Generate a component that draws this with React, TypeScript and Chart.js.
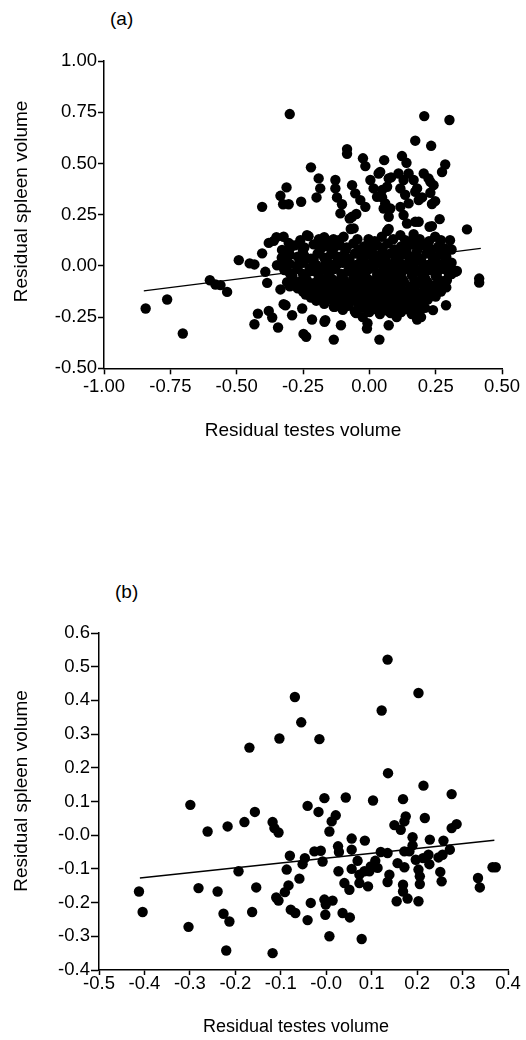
import { useEffect, useRef } from "react";
import { Chart, registerables } from "chart.js";

Chart.register(...registerables);

const FONT = '"Liberation Sans", Arial, Helvetica, sans-serif';

// ---------- Panel (a) ----------
const xTicksA = [-1, -0.75, -0.5, -0.25, 0, 0.25, 0.5];
const xTickLabelsA = ["-1.00", "-0.75", "-0.50", "-0.25", "0.00", "0.25", "0.50"];
const yTicksA = [-0.5, -0.25, 0, 0.25, 0.5, 0.75, 1];
const yTickLabelsA = ["-0.50", "-0.25", "0.00", "0.25", "0.50", "0.75", "1.00"];

const leftPointsA: [number, number][] = [
  [-0.843, -0.208], [-0.762, -0.164], [-0.703, -0.33], [-0.601, -0.07], [-0.58, -0.091],
  [-0.561, -0.094], [-0.536, -0.127], [-0.492, 0.028], [-0.451, 0.012], [-0.433, 0.007],
  [-0.404, 0.061], [-0.392, -0.029], [-0.385, -0.083], [-0.348, 0.003], [-0.335, -0.115],
  [-0.329, 0.078], [-0.3, -0.1],
];

const upperPointsA: [number, number][] = [
  [-0.3, 0.741], [0.207, 0.731], [0.302, 0.712], [0.173, 0.611], [0.233, 0.586],
  [-0.084, 0.57], [-0.084, 0.547], [-0.22, 0.481], [-0.024, 0.525], [-0.015, 0.487],
  [0.056, 0.516], [0.123, 0.536], [0.14, 0.503], [0.286, 0.495], [0.274, 0.458],
  [-0.191, 0.427], [-0.185, 0.378], [-0.199, 0.334], [-0.128, 0.419], [-0.128, 0.378],
  [-0.122, 0.334], [-0.103, 0.301], [-0.065, 0.394], [-0.053, 0.354], [-0.034, 0.321],
  [-0.015, 0.288], [0.004, 0.419], [0.016, 0.378], [0.035, 0.451], [0.048, 0.334],
  [0.067, 0.386], [0.073, 0.427], [0.054, 0.28], [0.073, 0.24], [0.11, 0.451],
  [0.129, 0.419], [0.148, 0.451], [0.117, 0.378], [0.135, 0.347], [0.148, 0.305],
  [0.167, 0.419], [0.18, 0.378], [0.199, 0.334], [0.205, 0.451], [0.23, 0.41],
  [0.23, 0.357], [0.236, 0.302], [0.173, 0.215], [0.227, 0.191], [0.265, 0.228],
  [0.368, 0.178], [-0.065, 0.24], [-0.109, 0.256], [-0.074, 0.231], [-0.049, 0.253],
  [-0.059, 0.183], [-0.312, 0.383], [-0.335, 0.342], [-0.325, 0.301], [-0.304, 0.301],
  [-0.257, 0.313], [-0.404, 0.288], [0.06, 0.305], [0.079, 0.28], [0.117, 0.288],
  [0.129, 0.248], [0.142, 0.207], [0.186, 0.215], [0.236, 0.194], [0.041, 0.459],
  [0.082, 0.432], [0.029, 0.337], [0.048, 0.37], [0.186, 0.321], [0.248, 0.316],
  [0.173, 0.362], [0.223, 0.427], [0.242, 0.394],
];

const bandPointsA: [number, number][] = [
  [-0.379, 0.112], [-0.36, 0.122], [-0.323, 0.142], [-0.304, 0.112], [-0.29, 0.1],
  [-0.229, 0.145], [-0.185, 0.117], [-0.135, 0.13], [-0.097, 0.142], [-0.003, 0.13],
  [0.047, 0.142], [0.073, 0.18], [0.117, 0.15], [0.167, 0.155], [0.248, 0.142],
  [0.304, 0.125], [-0.07, 0.18], [0.067, 0.17], [0.167, 0.14], [-0.17, 0.14],
  [-0.235, 0.15], [-0.35, 0.14], [0.31, 0.08],
  [-0.26, 0.125], [-0.19, 0.13], [-0.15, 0.12], [-0.115, 0.125], [-0.045, 0.13],
  [0.02, 0.12], [0.09, 0.13], [0.135, 0.125], [0.19, 0.13], [0.225, 0.12], [0.27, 0.125],
];

const corePointsA: [number, number][] = [
  [-0.28, 0.1], [-0.21, 0.105], [-0.16, 0.095], [-0.11, 0.1], [-0.06, 0.11], [-0.02, 0.095],
  [0.03, 0.1], [0.07, 0.11], [0.12, 0.095], [0.16, 0.105], [0.21, 0.1], [0.26, 0.095],
  [-0.3, 0.085], [-0.245, 0.09], [-0.185, 0.08], [-0.135, 0.085], [-0.085, 0.09], [-0.04, 0.08],
  [0.005, 0.085], [0.05, 0.09], [0.095, 0.08], [0.14, 0.085], [0.185, 0.09], [0.235, 0.08], [0.285, 0.085],
  [-0.31, 0.07], [-0.25, 0.075], [-0.19, 0.065], [-0.14, 0.07], [-0.09, 0.075], [-0.04, 0.065],
  [0.01, 0.07], [0.05, 0.075], [0.09, 0.065], [0.14, 0.07], [0.18, 0.075], [0.23, 0.065], [0.28, 0.07],
  [-0.3, 0.055], [-0.245, 0.05], [-0.195, 0.06], [-0.145, 0.055], [-0.1, 0.05], [-0.055, 0.06],
  [-0.01, 0.055], [0.035, 0.05], [0.08, 0.06], [0.125, 0.055], [0.17, 0.05], [0.215, 0.06], [0.265, 0.055],
  [-0.33, 0.04], [-0.27, 0.045], [-0.22, 0.035], [-0.17, 0.04], [-0.12, 0.045], [-0.08, 0.035],
  [-0.03, 0.04], [0.02, 0.045], [0.06, 0.035], [0.1, 0.04], [0.15, 0.045], [0.19, 0.035],
  [0.24, 0.04], [0.29, 0.045],
  [-0.315, 0.025], [-0.26, 0.02], [-0.21, 0.03], [-0.165, 0.025], [-0.12, 0.02], [-0.075, 0.03],
  [-0.03, 0.025], [0.015, 0.02], [0.06, 0.03], [0.105, 0.025], [0.15, 0.02], [0.195, 0.03],
  [0.24, 0.025], [0.285, 0.02],
  [-0.3, 0.01], [-0.25, 0.015], [-0.2, 0.005], [-0.15, 0.01], [-0.1, 0.015], [-0.05, 0.005],
  [-0.01, 0.01], [0.04, 0.015], [0.08, 0.005], [0.12, 0.01], [0.17, 0.015], [0.22, 0.005],
  [0.26, 0.01], [0.31, 0.015],
  [-0.325, -0.005], [-0.275, 0.0], [-0.225, -0.01], [-0.175, -0.005], [-0.125, 0.0], [-0.075, -0.01],
  [-0.03, -0.005], [0.02, 0.0], [0.065, -0.01], [0.11, -0.005], [0.155, 0.0], [0.2, -0.01],
  [0.245, -0.005], [0.29, 0.0],
  [-0.32, -0.02], [-0.27, -0.015], [-0.22, -0.025], [-0.18, -0.02], [-0.13, -0.015], [-0.08, -0.025],
  [-0.04, -0.02], [0.0, -0.015], [0.05, -0.025], [0.09, -0.02], [0.14, -0.015], [0.18, -0.025],
  [0.23, -0.02], [0.28, -0.015], [0.33, -0.025],
  [-0.3, -0.035], [-0.25, -0.04], [-0.2, -0.03], [-0.155, -0.035], [-0.105, -0.04], [-0.06, -0.03],
  [-0.015, -0.035], [0.03, -0.04], [0.075, -0.03], [0.12, -0.035], [0.165, -0.04], [0.21, -0.03],
  [0.255, -0.035], [0.31, -0.04],
  [-0.29, -0.05], [-0.24, -0.045], [-0.19, -0.055], [-0.15, -0.05], [-0.1, -0.045], [-0.06, -0.055],
  [-0.02, -0.05], [0.03, -0.045], [0.07, -0.055], [0.11, -0.05], [0.16, -0.045], [0.2, -0.055],
  [0.25, -0.05], [0.3, -0.045],
  [-0.29, -0.065], [-0.235, -0.07], [-0.185, -0.06], [-0.14, -0.065], [-0.095, -0.07], [-0.05, -0.06],
  [-0.005, -0.065], [0.04, -0.07], [0.085, -0.06], [0.125, -0.065], [0.17, -0.07], [0.21, -0.06],
  [0.26, -0.065], [0.29, -0.07],
  [-0.31, -0.08], [-0.26, -0.075], [-0.21, -0.085], [-0.16, -0.08], [-0.12, -0.075], [-0.07, -0.085],
  [-0.03, -0.08], [0.01, -0.075], [0.06, -0.085], [0.1, -0.08], [0.13, -0.075], [0.18, -0.085],
  [0.22, -0.08], [0.27, -0.075],
  [-0.29, -0.095], [-0.24, -0.1], [-0.19, -0.09], [-0.145, -0.095], [-0.1, -0.1], [-0.055, -0.09],
  [-0.015, -0.095], [0.025, -0.1], [0.07, -0.09], [0.115, -0.095], [0.155, -0.1], [0.2, -0.09],
  [0.245, -0.095], [0.28, -0.1],
  [-0.27, -0.11], [-0.22, -0.105], [-0.18, -0.115], [-0.13, -0.11], [-0.09, -0.105], [-0.04, -0.115],
  [0.0, -0.11], [0.04, -0.105], [0.08, -0.115], [0.12, -0.11], [0.16, -0.105], [0.21, -0.115],
  [0.25, -0.11], [0.29, -0.105],
  [-0.25, -0.125], [-0.205, -0.13], [-0.16, -0.12], [-0.115, -0.125], [-0.07, -0.13], [-0.025, -0.12],
  [0.02, -0.125], [0.06, -0.13], [0.1, -0.12], [0.14, -0.125], [0.18, -0.13], [0.225, -0.12], [0.27, -0.125],
  [-0.24, -0.14], [-0.19, -0.135], [-0.14, -0.145], [-0.1, -0.14], [-0.05, -0.135], [-0.01, -0.145],
  [0.03, -0.14], [0.07, -0.135], [0.11, -0.145], [0.15, -0.14], [0.19, -0.135], [0.24, -0.145],
  [-0.22, -0.155], [-0.17, -0.16], [-0.125, -0.15], [-0.08, -0.155], [-0.035, -0.16], [0.01, -0.15],
  [0.05, -0.155], [0.09, -0.16], [0.13, -0.15], [0.17, -0.155], [0.21, -0.16], [0.25, -0.15],
  [-0.2, -0.17], [-0.15, -0.165], [-0.11, -0.175], [-0.06, -0.17], [-0.02, -0.165], [0.02, -0.175],
  [0.06, -0.17], [0.1, -0.165], [0.14, -0.175], [0.18, -0.17], [0.22, -0.165],
  [-0.17, -0.185], [-0.125, -0.19], [-0.08, -0.18], [-0.04, -0.185], [0.0, -0.19], [0.04, -0.18],
  [0.08, -0.185], [0.115, -0.19], [0.155, -0.18], [0.195, -0.185],
  [-0.13, -0.2], [-0.08, -0.195], [-0.03, -0.205], [0.01, -0.2], [0.05, -0.195], [0.09, -0.205],
  [0.13, -0.2], [0.17, -0.195], [0.21, -0.205],
  [-0.1, -0.215], [-0.055, -0.22], [-0.01, -0.21], [0.03, -0.215], [0.07, -0.22], [0.11, -0.21],
  [0.15, -0.215], [0.19, -0.22],
  [-0.05, -0.23], [0.0, -0.225], [0.04, -0.235], [0.08, -0.23], [0.12, -0.225], [0.16, -0.235],
];

const lowerPointsA: [number, number][] = [
  [-0.42, -0.233], [-0.379, -0.22], [-0.366, -0.252], [-0.433, -0.285], [-0.344, -0.301],
  [-0.291, -0.241], [-0.316, -0.192], [-0.253, -0.208], [-0.248, -0.332], [-0.238, -0.346],
  [-0.216, -0.262], [-0.169, -0.273], [-0.134, -0.36], [-0.107, -0.29], [-0.009, -0.306],
  [-0.007, -0.28], [0.038, -0.36], [0.073, -0.29], [0.103, -0.25], [0.18, -0.262],
  [0.195, -0.25], [0.24, -0.216], [0.289, -0.192], [0.414, -0.062], [0.414, -0.082],
  [0.324, -0.029], [-0.323, -0.187], [-0.166, -0.265], [0.117, -0.216], [0.154, -0.19],
  [-0.235, -0.135], [-0.197, -0.151], [-0.134, -0.2], [-0.053, -0.225], [-0.025, -0.25],
  [0.292, -0.07], [0.305, 0.012], [0.316, -0.021],
];

const fitXA = [-0.85, 0.42];
const fitYA = [-0.122, 0.085];

// ---------- Panel (b) ----------
const xTicksB = [-0.5, -0.4, -0.3, -0.2, -0.1, 0, 0.1, 0.2, 0.3, 0.4];
const xTickLabelsB = ["-0.5", "-0.4", "-0.3", "-0.2", "-0.1", "-0.0", "0.1", "0.2", "0.3", "0.4"];
const yTicksB = [-0.4, -0.3, -0.2, -0.1, 0, 0.1, 0.2, 0.3, 0.4, 0.5, 0.6];
const yTickLabelsB = ["-0.4", "-0.3", "-0.2", "-0.1", "-0.0", "0.1", "0.2", "0.3", "0.4", "0.5", "0.6"];

const upperPointsB: [number, number][] = [
  [0.135, 0.521], [0.203, 0.422], [-0.069, 0.41], [0.122, 0.37], [-0.055, 0.335],
  [-0.103, 0.287], [-0.015, 0.285], [-0.169, 0.26], [0.136, 0.184], [0.214, 0.147],
  [0.276, 0.122], [-0.299, 0.09], [-0.004, 0.11], [0.043, 0.112], [0.103, 0.103],
  [0.169, 0.107], [-0.041, 0.087], [-0.017, 0.069], [0.021, 0.059], [0.012, 0.041],
  [0.007, 0.011], [0.15, 0.03], [0.175, 0.056], [0.172, 0.041], [0.217, 0.051],
  [0.287, 0.033], [0.276, 0.021], [-0.157, 0.069], [-0.18, 0.039], [-0.217, 0.026],
  [-0.261, 0.011], [-0.118, 0.039], [-0.114, 0.021], [-0.105, 0.008], [0.164, 0.016],
];

const leftPointsB: [number, number][] = [
  [-0.08, -0.061], [-0.047, -0.068], [-0.052, -0.086], [-0.087, -0.102], [-0.059, -0.129],
  [-0.083, -0.149], [-0.091, -0.169], [-0.11, -0.185], [-0.105, -0.194], [-0.078, -0.221],
  [-0.068, -0.231], [-0.041, -0.252], [-0.034, -0.201], [-0.193, -0.107], [-0.412, -0.167],
  [-0.404, -0.228], [-0.281, -0.157], [-0.239, -0.167], [-0.154, -0.155], [-0.226, -0.233],
  [-0.213, -0.256], [-0.163, -0.228], [-0.303, -0.272], [-0.22, -0.342], [-0.118, -0.35],
];

const rightPointsB: [number, number][] = [
  [-0.026, -0.048], [-0.012, -0.046], [-0.008, -0.078], [0.026, -0.033], [0.028, -0.05],
  [0.056, -0.01], [0.056, -0.043], [0.085, -0.016], [0.069, -0.076], [0.027, -0.107],
  [0.056, -0.1], [0.073, -0.117], [0.084, -0.107], [0.098, -0.093], [0.108, -0.076],
  [0.113, -0.097], [0.095, -0.107], [0.04, -0.142], [0.051, -0.162], [0.073, -0.142],
  [0.092, -0.152], [0.12, -0.05], [0.135, -0.053], [0.139, -0.117], [0.135, -0.139],
  [0.157, -0.083], [0.172, -0.095], [0.169, -0.147], [0.169, -0.167], [0.155, -0.196],
  [0.179, -0.188], [0.203, -0.196], [0.172, -0.048], [0.183, -0.048], [0.19, -0.03],
  [0.19, -0.006], [0.197, -0.073], [0.203, -0.102], [0.206, -0.122], [0.206, -0.145],
  [0.213, -0.068], [0.225, -0.058], [0.227, -0.086], [0.228, -0.013], [0.247, -0.066],
  [0.256, -0.058], [0.272, -0.043], [0.258, -0.016], [0.251, -0.109], [0.254, -0.137],
  [0.334, -0.127], [0.338, -0.155], [0.366, -0.095], [0.373, -0.095], [-0.004, -0.191],
  [-0.001, -0.206], [0.014, -0.194], [-0.002, -0.236], [0.036, -0.231], [0.052, -0.244],
  [0.007, -0.3], [0.078, -0.308],
];

const fitXB = [-0.41, 0.37];
const fitYB = [-0.127, -0.015];

// ---------- helpers ----------
type Pt = [number, number];
const toXY = (pts: Pt[]) => pts.map(([x, y]) => ({ x, y }));
const fitLine = (xs: number[], ys: number[]) => xs.map((x, i) => ({ x, y: ys[i] }));

interface PanelSpec {
  points: Pt[];
  fitX: number[];
  fitY: number[];
  xTicks: number[];
  xLabels: string[];
  yTicks: number[];
  yLabels: string[];
  padTop: number;
  padRight: number;
  yAxisWidth: number;
  xAxisHeight: number;
  tickFont: number;
  xTitle: string;
  yTitle: string;
  xTitleFont: number;
  yTitleFont: number;
  xTitlePadBottom: number;
  yTitlePadTop: number;
  xTickLen: number;
  xTickPad: number;
  yTickLen: number;
  yTickPad: number;
}

function buildConfig(p: PanelSpec): any {
  const axisBorder = { display: true, color: "#000", width: 1.5 };
  return {
    type: "scatter",
    data: {
      datasets: [
        {
          data: toXY(p.points),
          backgroundColor: "#000",
          borderWidth: 0,
          pointRadius: 5.2,
          pointHoverRadius: 5.2,
        },
        {
          data: fitLine(p.fitX, p.fitY),
          showLine: true,
          borderColor: "#000",
          borderWidth: 1.3,
          pointRadius: 0,
          pointHoverRadius: 0,
          fill: false,
        },
      ],
    },
    options: {
      animation: false,
      responsive: false,
      maintainAspectRatio: false,
      events: [],
      layout: { padding: { top: p.padTop, right: p.padRight, left: 0, bottom: 0 } },
      plugins: { legend: { display: false }, tooltip: { enabled: false }, title: { display: false } },
      scales: {
        x: {
          type: "linear",
          min: p.xTicks[0],
          max: p.xTicks[p.xTicks.length - 1],
          afterBuildTicks: (s: any) => {
            s.ticks = p.xTicks.map((v) => ({ value: v }));
          },
          afterFit: (s: any) => {
            s.height = p.xAxisHeight;
          },
          ticks: {
            autoSkip: false,
            maxRotation: 0,
            minRotation: 0,
            color: "#000",
            padding: p.xTickPad,
            font: { family: FONT, size: p.tickFont, lineHeight: 1 },
            callback: (_v: any, i: number) => p.xLabels[i],
          },
          grid: {
            drawOnChartArea: false,
            drawTicks: true,
            tickLength: p.xTickLen,
            tickColor: "#000",
            tickWidth: 1.5,
          },
          border: axisBorder,
          title: {
            display: true,
            text: p.xTitle,
            color: "#000",
            font: { family: FONT, size: p.xTitleFont },
            padding: { top: 0, bottom: p.xTitlePadBottom },
          },
        },
        y: {
          type: "linear",
          min: p.yTicks[0],
          max: p.yTicks[p.yTicks.length - 1],
          afterBuildTicks: (s: any) => {
            s.ticks = p.yTicks.map((v) => ({ value: v }));
          },
          afterFit: (s: any) => {
            s.width = p.yAxisWidth;
          },
          ticks: {
            autoSkip: false,
            color: "#000",
            padding: p.yTickPad,
            font: { family: FONT, size: p.tickFont, lineHeight: 1 },
            callback: (_v: any, i: number) => p.yLabels[i],
          },
          grid: {
            drawOnChartArea: false,
            drawTicks: true,
            tickLength: p.yTickLen,
            tickColor: "#000",
            tickWidth: 1.5,
          },
          border: axisBorder,
          title: {
            display: true,
            text: p.yTitle,
            color: "#000",
            font: { family: FONT, size: p.yTitleFont },
            padding: { top: p.yTitlePadTop, bottom: 0 },
          },
        },
      },
    },
  };
}

export default function App() {
  const refA = useRef<HTMLCanvasElement>(null);
  const refB = useRef<HTMLCanvasElement>(null);

  useEffect(() => {
    const chartA = new Chart(
      refA.current as HTMLCanvasElement,
      buildConfig({
        points: [...leftPointsA, ...upperPointsA, ...bandPointsA, ...corePointsA, ...lowerPointsA],
        fitX: fitXA,
        fitY: fitYA,
        xTicks: xTicksA,
        xLabels: xTickLabelsA,
        yTicks: yTicksA,
        yLabels: yTickLabelsA,
        padTop: 61,
        padRight: 24,
        yAxisWidth: 104,
        xAxisHeight: 73.7,
        tickFont: 18.5,
        xTitle: "Residual testes volume",
        yTitle: "     Residual spleen volume",
        xTitleFont: 19,
        yTitleFont: 19,
        xTitlePadBottom: 0,
        yTitlePadTop: 10,
        xTickLen: 6,
        xTickPad: 3,
        yTickLen: 6,
        yTickPad: 1,
      })
    );
    const chartB = new Chart(
      refB.current as HTMLCanvasElement,
      buildConfig({
        points: [...upperPointsB, ...leftPointsB, ...rightPointsB],
        fitX: fitXB,
        fitY: fitYB,
        xTicks: xTicksB,
        xLabels: xTickLabelsB,
        yTicks: yTicksB,
        yLabels: yTickLabelsB,
        padTop: 73,
        padRight: 18,
        yAxisWidth: 99,
        xAxisHeight: 70,
        tickFont: 18.5,
        xTitle: "Residual testes volume   ",
        yTitle: "    Residual spleen volume",
        xTitleFont: 18,
        yTitleFont: 19,
        xTitlePadBottom: 2,
        yTitlePadTop: 10,
        xTickLen: 5,
        xTickPad: 0,
        yTickLen: 8,
        yTickPad: 1,
      })
    );
    return () => {
      chartA.destroy();
      chartB.destroy();
    };
  }, []);

  return (
    <div
      style={{
        position: "absolute",
        left: 0,
        top: 0,
        width: 526,
        height: 1040,
        background: "#fff",
        fontFamily: FONT,
        color: "#000",
      }}
    >
      <div style={{ position: "absolute", left: 110, top: 8, fontSize: 19, lineHeight: "22px" }}>(a)</div>
      <canvas
        ref={refA}
        width={526}
        height={442}
        style={{ position: "absolute", left: 0, top: 0, width: 526, height: 442 }}
      />
      <div style={{ position: "absolute", left: 115, top: 581, fontSize: 19, lineHeight: "22px" }}>(b)</div>
      <canvas
        ref={refB}
        width={526}
        height={480}
        style={{ position: "absolute", left: 0, top: 560, width: 526, height: 480 }}
      />
    </div>
  );
}
